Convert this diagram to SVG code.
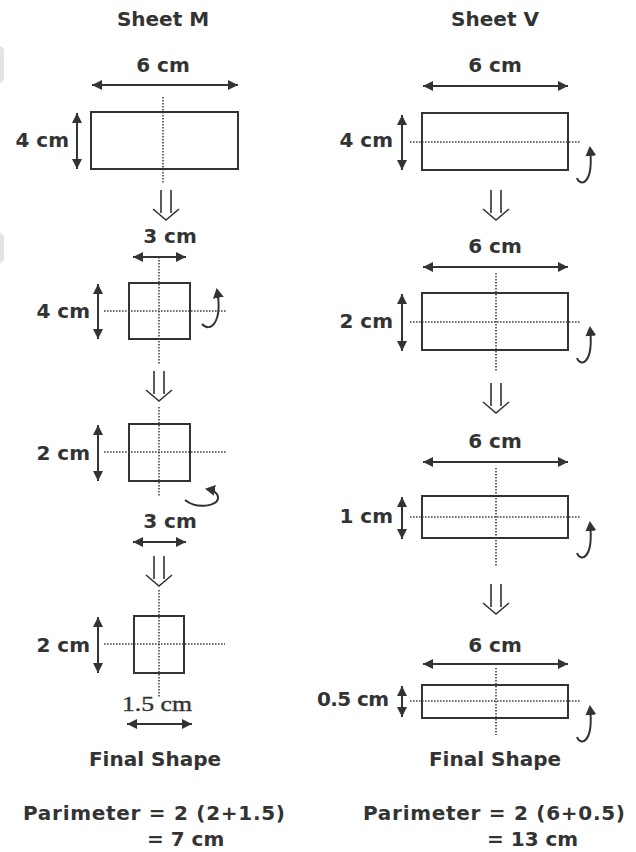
<svg xmlns="http://www.w3.org/2000/svg" width="636" height="852" viewBox="0 0 636 852">
<defs>
<marker id="ah" markerUnits="userSpaceOnUse" markerWidth="10" markerHeight="10" refX="10" refY="5" orient="auto-start-reverse" viewBox="0 0 10 10">
<path d="M0,0 L10,5 L0,10 z" fill="#333"/>
</marker>
<marker id="ch" markerUnits="userSpaceOnUse" markerWidth="10" markerHeight="11" refX="8" refY="5.5" orient="auto" viewBox="0 0 10 11">
<path d="M0,0 L10,5.5 L0,11 z" fill="#333"/>
</marker>
<path id="dbl" d="M-5,0 V23 M5,0 V23 M-13,19 L0,30 L13,19" fill="none" stroke="#333" stroke-width="1.6"/>
<path id="curl" d="M577,36 C580,45 594,43 590,6" fill="none" stroke="#333" stroke-width="2" marker-end="url(#ch)"/>
</defs>
<style>
text{font-family:"DejaVu Sans","Verdana",sans-serif;font-weight:bold;font-size:20px;fill:#333}
.m{text-anchor:middle}
.e{text-anchor:end}
.serif{font-family:"Liberation Serif","Times New Roman",serif;font-weight:normal;font-size:22px;stroke:#333;stroke-width:0.4}
.shape{fill:none;stroke:#333;stroke-width:2}
.dot{fill:none;stroke:#444;stroke-width:1.6;stroke-dasharray:1.6 1.4}
.dim{fill:none;stroke:#333;stroke-width:2;marker-start:url(#ah);marker-end:url(#ah)}
</style>
<rect width="636" height="852" fill="#fff"/>
<rect x="-10" y="46" width="14" height="37" rx="5" fill="#e4e4e4"/>
<rect x="-10" y="233" width="14" height="30" rx="5" fill="#e4e4e4"/>

<text class="m" x="163" y="26">Sheet M</text>
<text class="m" x="495" y="26">Sheet V</text>

<g id="M1">
<rect class="shape" x="91" y="112" width="147" height="57"/>
<line class="dot" x1="163" y1="97" x2="163" y2="184"/>
<text class="m" x="163" y="72">6 cm</text>
<text class="e" x="69" y="147">4 cm</text>
</g>
<g id="M2">
<rect class="shape" x="129" y="283" width="61" height="56"/>
<line class="dot" x1="159" y1="257" x2="159" y2="365"/>
<line class="dot" x1="104" y1="311" x2="226" y2="311"/>
<text class="m" x="170" y="243">3 cm</text>
<text class="e" x="90" y="318">4 cm</text>
</g>
<g id="M3">
<rect class="shape" x="129" y="424" width="61" height="57"/>
<line class="dot" x1="159" y1="407" x2="159" y2="497"/>
<line class="dot" x1="104" y1="452" x2="226" y2="452"/>
<text class="e" x="90" y="460">2 cm</text>
<text class="m" x="170" y="528">3 cm</text>
</g>
<g id="M4">
<rect class="shape" x="134" y="616" width="50" height="57"/>
<line class="dot" x1="159" y1="590" x2="159" y2="698"/>
<line class="dot" x1="104" y1="644" x2="225" y2="644"/>
<text class="e" x="90" y="652">2 cm</text>
<text class="serif m" x="157" y="711" textLength="70" lengthAdjust="spacingAndGlyphs">1.5 cm</text>
<text class="m" x="155" y="766">Final Shape</text>
<text x="23" y="820" textLength="262" lengthAdjust="spacing">Parimeter = 2 (2+1.5)</text>
<text x="147" y="846">= 7 cm</text>
</g>

<g id="V1">
<rect class="shape" x="422" y="113" width="146" height="57"/>
<line class="dot" x1="410" y1="142" x2="581" y2="142"/>
<text class="m" x="495" y="72">6 cm</text>
<text class="e" x="393" y="147">4 cm</text>
</g>
<g id="V2">
<rect class="shape" x="422" y="293" width="146" height="57"/>
<line class="dot" x1="496" y1="273" x2="496" y2="372"/>
<line class="dot" x1="410" y1="322" x2="581" y2="322"/>
<text class="m" x="495" y="253">6 cm</text>
<text class="e" x="393" y="328">2 cm</text>
</g>
<g id="V3">
<rect class="shape" x="422" y="496" width="146" height="42"/>
<line class="dot" x1="496" y1="468" x2="496" y2="567"/>
<line class="dot" x1="410" y1="517" x2="581" y2="517"/>
<text class="m" x="495" y="448">6 cm</text>
<text class="e" x="393" y="523">1 cm</text>
</g>
<g id="V4">
<rect class="shape" x="422" y="685" width="146" height="33"/>
<line class="dot" x1="496" y1="668" x2="496" y2="735"/>
<line class="dot" x1="410" y1="701" x2="581" y2="701"/>
<text class="m" x="495" y="652">6 cm</text>
<text class="e" x="389" y="706" textLength="72" lengthAdjust="spacing">0.5 cm</text>
<text class="m" x="495" y="766">Final Shape</text>
<text x="363" y="820" textLength="262" lengthAdjust="spacing">Parimeter = 2 (6+0.5)</text>
<text x="487" y="846">= 13 cm</text>
</g>

<g id="connectors">
<line class="dim" x1="92" y1="85" x2="238" y2="85"/>
<line class="dim" x1="77" y1="113" x2="77" y2="169"/>
<line class="dim" x1="133" y1="257" x2="186" y2="257"/>
<line class="dim" x1="98" y1="284" x2="98" y2="339"/>
<line class="dim" x1="98" y1="425" x2="98" y2="481"/>
<line class="dim" x1="133" y1="542" x2="186" y2="542"/>
<line class="dim" x1="98" y1="617" x2="98" y2="673"/>
<line class="dim" x1="127" y1="724" x2="192" y2="724"/>
<line class="dim" x1="423" y1="86" x2="568" y2="86"/>
<line class="dim" x1="402" y1="115" x2="402" y2="170"/>
<line class="dim" x1="423" y1="267" x2="568" y2="267"/>
<line class="dim" x1="402" y1="294" x2="402" y2="351"/>
<line class="dim" x1="423" y1="462" x2="568" y2="462"/>
<line class="dim" x1="402" y1="497" x2="402" y2="539"/>
<line class="dim" x1="423" y1="664" x2="568" y2="664"/>
<line class="dim" x1="402" y1="686" x2="402" y2="717"/>

<use href="#dbl" x="166" y="190"/>
<use href="#dbl" x="159" y="371"/>
<use href="#dbl" x="159" y="556"/>
<use href="#dbl" x="496" y="190"/>
<use href="#dbl" x="496" y="383"/>
<use href="#dbl" x="496" y="584"/>

<path d="M202,324 C210,333 223,323 217,290" fill="none" stroke="#333" stroke-width="2" marker-end="url(#ch)"/>
<path d="M185,500 C196,509 219,507 218,497 C217,492 213,490 207,489" fill="none" stroke="#333" stroke-width="2" marker-end="url(#ch)"/>
<use href="#curl" x="0" y="142"/>
<use href="#curl" x="0" y="322"/>
<use href="#curl" x="0" y="517"/>
<use href="#curl" x="0" y="701"/>
</g>
</svg>
